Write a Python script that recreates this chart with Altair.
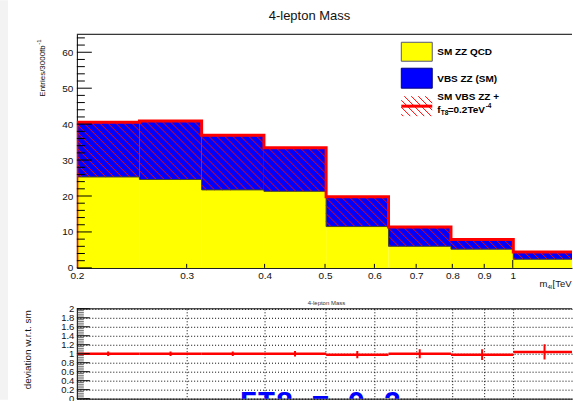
import math
import altair as alt
import pandas as pd

# ---------------- histogram content (bins of m_4l in TeV) ----------------
edges = [0.2, 0.252, 0.317, 0.399, 0.502, 0.632, 0.796, 1.002, 1.262]
qcd = [25.3, 24.6, 21.7, 21.3, 11.5, 6.0, 5.2, 2.4]          # SM ZZ QCD
vbs_sm = [15.2, 16.3, 15.2, 12.1, 8.4, 5.4, 2.9, 1.9]        # VBS ZZ (SM), stacked on QCD
vbs_ft8 = [40.5, 40.9, 36.9, 33.4, 19.8, 11.4, 7.9, 4.4]     # SM VBS ZZ + fT8 = 0.2 TeV^-4
ratio = [1.00, 1.00, 1.00, 1.00, 0.98, 1.00, 0.98, 1.04]     # deviation w.r.t. SM
ratio_err = [0.05, 0.05, 0.05, 0.06, 0.08, 0.10, 0.12, 0.17]

# ---------------- axis ticks ----------------
x_labels = [0.2, 0.3, 0.4, 0.5, 0.6, 0.7, 0.8, 0.9, 1.0]
x_small_ticks = [0.3, 0.4, 0.5, 0.6, 0.7, 0.8, 0.9]
x_big_ticks = [1.0]
x_grid = [0.3, 0.4, 0.5, 0.6, 0.7, 0.8, 0.9, 1.0]
y_major = [0, 10, 20, 30, 40, 50, 60]
y_minor = [v for v in range(2, 66, 2) if v % 10]
r_major = [0, 0.2, 0.4, 0.6, 0.8, 1.0, 1.2, 1.4, 1.6, 1.8, 2.0]
r_minor = [round(0.04 * i, 2) for i in range(51)]

# ---------------- geometry ----------------
W, H_TOP, H_BOT, GAP = 496, 234, 90, 41
X_DOM = [0.2, 1.2445]
Y_DOM = [0, 65]
R_DOM = [0, 2]
PPD = W / math.log10(X_DOM[1] / X_DOM[0])   # pixels per decade
PPU = H_TOP / Y_DOM[1]                      # pixels per entry
HATCH = 8
FONT = "Liberation Sans"
RED = "#ff0000"


def hatch_lines(xa, xb, ya, yb, step):
    """Segments of the '\\' hatch (X + Y = k, Y upward) clipped to a box."""
    segs = []
    k = math.floor((xa + ya) / step) * step
    while k <= xb + yb:
        s, e = max(xa, k - yb), min(xb, k - ya)
        if e > s:
            segs.append((s, k - s, e, k - e))
        k += step
    return segs


def to_px(x):
    return math.log10(x / X_DOM[0]) * PPD


def from_px(p):
    return X_DOM[0] * 10 ** (p / PPD)


sm_total = [q + v for q, v in zip(qcd, vbs_sm)]
hist = pd.DataFrame({
    "lo": edges[:-1], "hi": edges[1:], "qcd": qcd, "sm": sm_total,
    "base": [0] * len(qcd), "ratio": ratio,
})
hist["mid"] = [math.sqrt(a * b) for a, b in zip(edges[:-1], edges[1:])]
hist["rlo"] = [r - e for r, e in zip(ratio, ratio_err)]
hist["rhi"] = [r + e for r, e in zip(ratio, ratio_err)]

# hatch fill of the VBS band
hrows = []
for lo, hi, q, s in zip(edges[:-1], edges[1:], qcd, sm_total):
    for x0, y0, x1, y1 in hatch_lines(to_px(lo), to_px(hi), q * PPU, s * PPU, HATCH):
        hrows.append({"xa": from_px(x0), "ya": y0 / PPU, "xb": from_px(x1), "yb": y1 / PPU})
hatch_df = pd.DataFrame(hrows)

# step outlines
red_pts = [(edges[0], 0.0)] + list(zip(edges[:-1], vbs_ft8)) + [(edges[-1], vbs_ft8[-1]), (edges[-1], 0.0)]
red_df = pd.DataFrame({"x": [p[0] for p in red_pts], "y": [p[1] for p in red_pts], "i": range(len(red_pts))})
yel_pts = list(zip(edges[:-1], qcd)) + [(edges[-1], qcd[-1])]
yel_df = pd.DataFrame({"x": [p[0] for p in yel_pts], "y": [p[1] for p in yel_pts], "i": range(len(yel_pts))})

one = pd.DataFrame({"a": [0]})


def text(s, x, y, size, **kw):
    return alt.Chart(pd.DataFrame({"t": [s]})).mark_text(
        fontSize=size, **{"font": FONT, **kw}
    ).encode(x=alt.value(x), y=alt.value(y), text="t:N")


def rule_px(x, x2, y, y2, **kw):
    return alt.Chart(one).mark_rule(**kw).encode(
        x=alt.value(x), x2=alt.value(x2), y=alt.value(y), y2=alt.value(y2))


xs = alt.Scale(type="log", domain=X_DOM, nice=False)
ys = alt.Scale(domain=Y_DOM, nice=False)
rs = alt.Scale(domain=R_DOM, nice=False)

# ======================= upper panel =======================
XA = alt.Axis(values=x_labels, format=".1~f", labelFlush=False, labelOverlap=False,
              ticks=False, grid=False, labelFontSize=10, labelPadding=3,
              labelColor="#111", labelFont=FONT, title=None, domainColor="black")
YA = alt.Axis(values=y_major, ticks=False, grid=False, labelFontSize=10, labelPadding=4,
              labelColor="#111", labelFont=FONT, title=None, domainColor="black")


def X(f):
    return alt.X(f, scale=xs, axis=XA)


def Y(f):
    return alt.Y(f, scale=ys, axis=YA)


yellow = alt.Chart(hist).mark_rect(color="#ffff00", clip=True).encode(
    x=X("lo:Q"), x2="hi", y=Y("qcd:Q"), y2="base")
blue = alt.Chart(hist).mark_rect(color="#0000ff", clip=True).encode(
    x=X("lo:Q"), x2="hi", y=Y("sm:Q"), y2="qcd")
hatch = alt.Chart(hatch_df).mark_rule(color=RED, strokeWidth=1, clip=True).encode(
    x=X("xa:Q"), x2="xb", y=Y("ya:Q"), y2="yb")
yel_line = alt.Chart(yel_df).mark_line(interpolate="step-after", color="#4a4a20", strokeWidth=1, clip=True).encode(
    x=X("x:Q"), y=Y("y:Q"), order="i:Q")
red_line = alt.Chart(red_df).mark_line(interpolate="step-after", color=RED, strokeWidth=3, clip=True).encode(
    x=X("x:Q"), y=Y("y:Q"), order="i:Q")

tick_major = alt.Chart(pd.DataFrame({"v": y_major})).mark_rule(color="black").encode(
    y=Y("v:Q"), x=alt.value(0), x2=alt.value(15))
tick_minor = alt.Chart(pd.DataFrame({"v": y_minor})).mark_rule(color="black").encode(
    y=Y("v:Q"), x=alt.value(0), x2=alt.value(8))
xtick_s = alt.Chart(pd.DataFrame({"v": x_small_ticks})).mark_rule(color="black").encode(
    x=X("v:Q"), y=alt.value(H_TOP), y2=alt.value(H_TOP - 4))
xtick_b = alt.Chart(pd.DataFrame({"v": x_big_ticks})).mark_rule(color="black").encode(
    x=X("v:Q"), y=alt.value(H_TOP), y2=alt.value(H_TOP - 8))

frame_top = rule_px(0, W, 0, 0, color="black", strokeWidth=1)
side_band = alt.Chart(one).mark_rect(color="#f3f3f3").encode(
    x=alt.value(-77), x2=alt.value(-69), y=alt.value(-34), y2=alt.value(366))

# legend
leg = [
    alt.Chart(one).mark_rect(color="#ffff00", stroke="#55557a", strokeWidth=1).encode(
        x=alt.value(325), x2=alt.value(356), y=alt.value(8), y2=alt.value(27)),
    alt.Chart(one).mark_rect(color="#0000ff", stroke="#000080", strokeWidth=1).encode(
        x=alt.value(325), x2=alt.value(356), y=alt.value(34), y2=alt.value(54)),
]
for x0, y0, x1, y1 in hatch_lines(325, 356, -82, -62, 7):
    leg.append(rule_px(x0, x1, -y0, -y1, color=RED, strokeWidth=1))
leg.append(rule_px(325, 356, 72, 72, color=RED, strokeWidth=3))
leg += [
    text("SM ZZ QCD", 361, 18, 10, fontWeight="bold", align="left"),
    text("VBS ZZ (SM)", 361, 45, 10, fontWeight="bold", align="left"),
    text("SM VBS ZZ +", 361, 62.5, 10, fontWeight="bold", align="left"),
    text("f", 361, 76, 10, fontWeight="bold", align="left"),
    text("T8", 364.5, 79, 6.5, fontWeight="bold", align="left"),
    text("=0.2TeV", 371.5, 76, 10, fontWeight="bold", align="left"),
    text("-4", 409.5, 71.5, 6.5, fontWeight="bold", align="left"),
]

labels_top = [
    text("4-lepton Mass", 233, -18, 13, color="#111"),
    text("Entries/3000fb", -34, 11, 8, angle=270, align="right", color="#111"),
    text("-1", -37.5, 10.5, 6, angle=270, align="left", color="#111"),
    text("m", 463.5, 250, 9.5, align="left", color="#111"),
    text("4l", 471.5, 253, 6, align="left", color="#111"),
    text("[TeV]", 476.5, 250, 9.5, align="left", color="#111", limit=20.5, ellipsis="\u200b"),
]

top = alt.layer(
    yellow, side_band, blue, hatch, yel_line, red_line,
    tick_major, tick_minor, xtick_s, xtick_b, frame_top, *leg, *labels_top
).properties(width=W, height=H_TOP)

# ======================= ratio panel =======================
XB = alt.Axis(values=x_grid, labels=False, ticks=False, grid=True, gridDash=[1, 2],
              gridColor="black", gridWidth=1, title=None, domainColor="black")
YB = alt.Axis(values=r_major, format=".1~f", labelOverlap=False, labelFlush=False,
              ticks=False, grid=True, gridDash=[1, 2], gridColor="black", gridWidth=1,
              labelFontSize=9.5, labelPadding=3, labelColor="#111", labelFont=FONT,
              title=None, domainColor="black")


def XR(f):
    return alt.X(f, scale=xs, axis=XB)


def YR(f):
    return alt.Y(f, scale=rs, axis=YB)


r_seg = alt.Chart(hist).mark_rule(color=RED, strokeWidth=2.5, clip=True).encode(
    x=XR("lo:Q"), x2="hi", y=YR("ratio:Q"))
r_err = alt.Chart(hist).mark_rule(color=RED, strokeWidth=2, clip=True).encode(
    x=XR("mid:Q"), y=YR("rlo:Q"), y2="rhi")
r_tmaj = alt.Chart(pd.DataFrame({"v": r_major})).mark_rule(color="black").encode(
    y=YR("v:Q"), x=alt.value(0), x2=alt.value(13))
r_tmin = alt.Chart(pd.DataFrame({"v": r_minor})).mark_rule(color="#333", strokeWidth=0.7).encode(
    y=YR("v:Q"), x=alt.value(0), x2=alt.value(7))
frame_bot = rule_px(0, W, 0, 0, color="black", strokeWidth=1)

labels_bot = [
    text("4-lepton Mass", 250, -6, 6, color="#333"),
    text("deviation w.r.t. sm", -49, 41, 10, angle=270, color="#111"),
    text("FT8 = 0.2", 163, 103, 30, font="Liberation Mono", fontWeight="bold",
         color="#0000ff", align="left", baseline="alphabetic", clip=True),
]

bottom = alt.layer(
    r_seg, r_err, r_tmaj, r_tmin, frame_bot, *labels_bot
).properties(width=W, height=H_BOT)

chart = alt.vconcat(top, bottom, spacing=GAP, bounds="flush").properties(
    padding=0
).configure_view(stroke=None)

chart.save("out.html", embed_options={"renderer": "svg", "actions": False})
